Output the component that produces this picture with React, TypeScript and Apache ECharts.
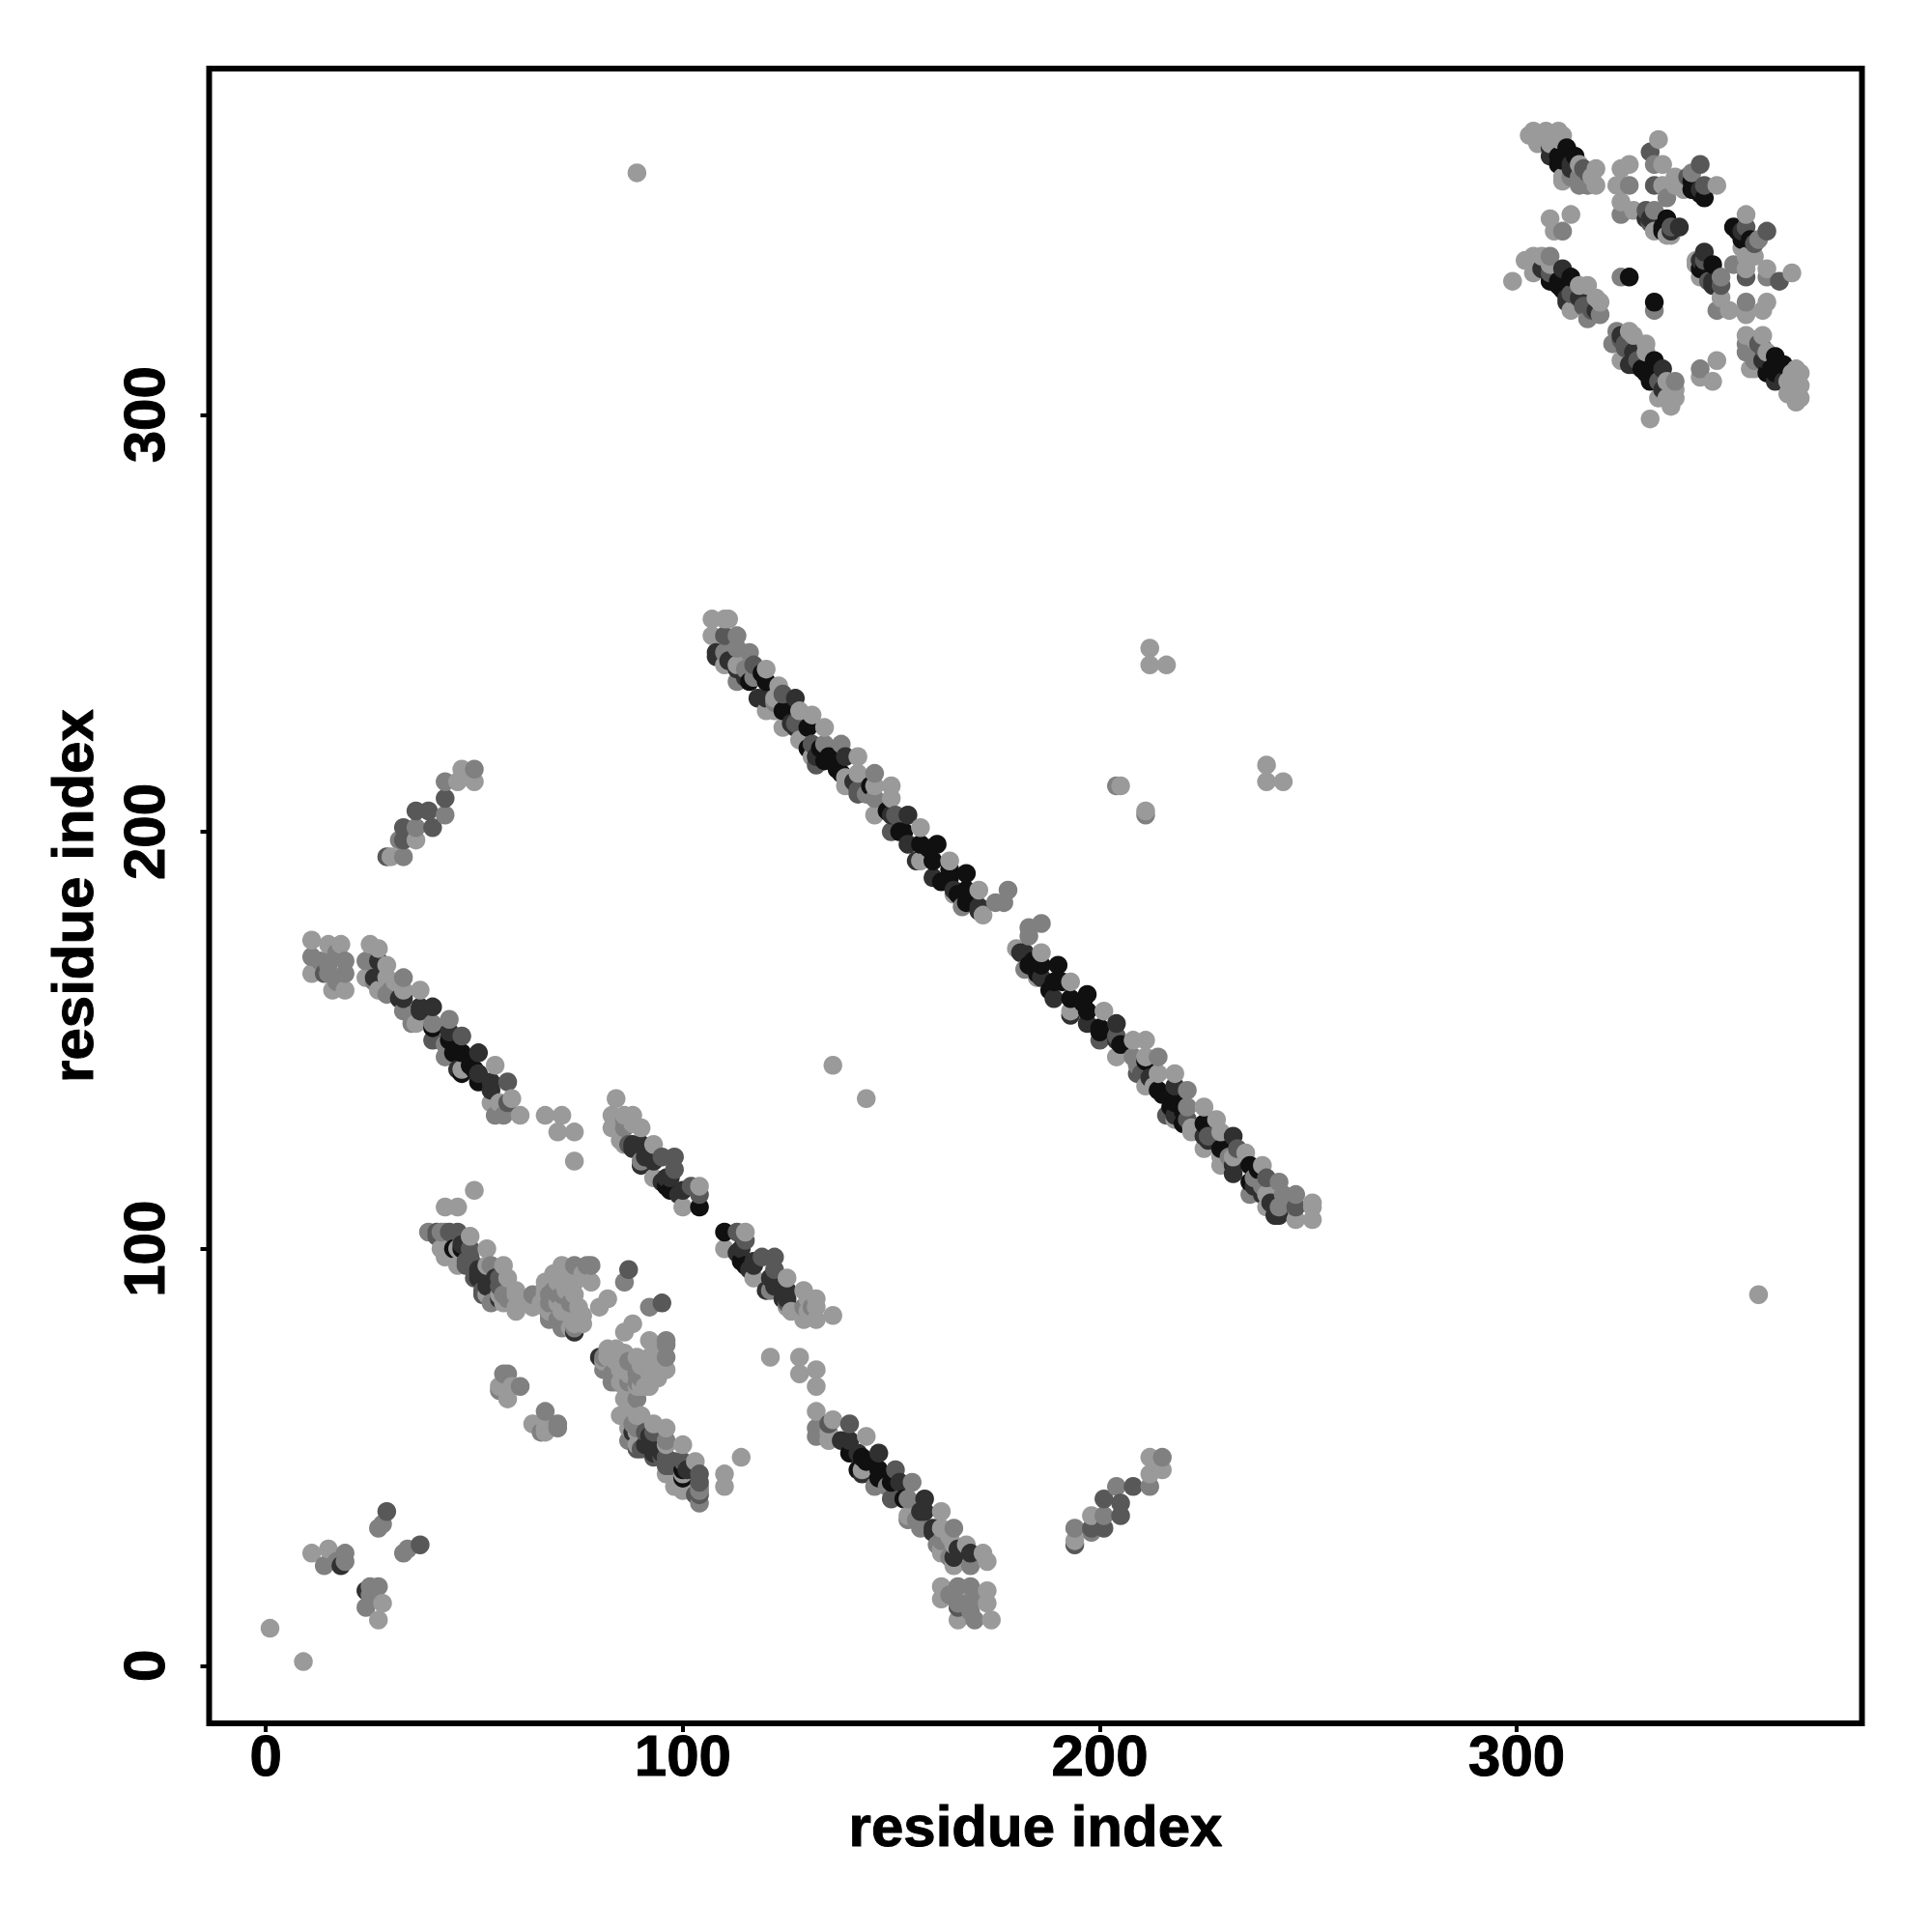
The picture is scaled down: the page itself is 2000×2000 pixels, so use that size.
import React, { useEffect, useRef } from "react";
import * as echarts from "echarts";

// Contact map: symmetric, so each contact is listed once as [i, j, shade]
const shades = ["#9a9a9a", "#808080", "#585858", "#303030", "#101010"];
const tickValues = [0, 100, 200, 300];
const axisTitle = "residue index";

const isolated = [
  [1, 9, 0], [89, 358, 0], [136, 144, 0], [212, 244, 0], [212, 240, 0], [216, 240, 0],
  [204, 211, 1], [205, 211, 0], [50, 114, 0], [43, 110, 0], [46, 110, 0],
  [74, 128, 0], [70, 128, 0], [71, 132, 0], [67, 132, 0], [74, 121, 0],
  [80, 86, 0], [82, 88, 0], [86, 92, 1], [87, 95, 2],
];

const cornerCluster = [
  [29, 37, 2], [27, 33, 1], [28, 34, 1], [11, 27, 0], [15, 28, 0], [14, 24, 1],
  [19, 27, 1], [19, 25, 1], [18, 24, 3], [17, 25, 1],
];

const parallelStrand = [
  [47, 215, 0], [50, 215, 1], [46, 212, 0], [50, 212, 0], [43, 212, 1], [43, 208, 2],
  [43, 204, 1], [36, 205, 2], [39, 205, 2], [40, 201, 2], [36, 201, 1], [33, 201, 2],
  [32, 198, 1], [33, 198, 2], [36, 198, 0], [33, 194, 1], [30, 194, 0], [29, 194, 2],
];

const mainBand = [
  [107, 251, 0], [110, 251, 0], [111, 251, 0], [107, 247, 0], [110, 247, 2], [113, 247, 1],
  [108, 243, 3], [110, 243, 1], [113, 244, 1], [116, 243, 1], [110, 240, 0], [113, 240, 0],
  [113, 239, 3], [117, 240, 2], [120, 239, 0], [113, 236, 1], [116, 236, 4], [120, 236, 4],
  [120, 232, 3], [120, 229, 0], [123, 235, 0], [124, 233, 2], [127, 232, 3], [124, 229, 4],
  [124, 225, 0], [127, 225, 3], [128, 229, 0], [131, 228, 0], [130, 225, 4], [134, 225, 0],
  [131, 221, 2], [131, 218, 0], [134, 221, 1], [135, 218, 4], [138, 221, 1], [139, 218, 3],
  [138, 214, 4], [139, 211, 0], [142, 218, 0], [142, 214, 0], [146, 214, 1], [142, 210, 2],
  [146, 211, 0], [150, 211, 0], [150, 208, 0], [146, 208, 1], [146, 204, 0], [150, 204, 3],
  [154, 204, 3], [150, 200, 2], [153, 200, 4], [154, 197, 3], [157, 201, 0], [161, 197, 4],
  [157, 197, 4], [157, 193, 0], [160, 193, 4], [160, 189, 3], [164, 193, 0], [164, 189, 4],
  [168, 190, 4], [165, 186, 3], [168, 186, 4], [171, 186, 0], [167, 182, 1], [168, 183, 4],
  [171, 182, 3], [175, 183, 1], [177, 183, 1], [178, 186, 1], [172, 180, 0],
];

const mainBandUnder = [
  [115, 237, 3], [118, 232, 3], [122, 231, 1], [122, 229, 0], [126, 226, 3], [129, 222, 0],
  [130, 220, 4], [133, 220, 4], [132, 216, 2], [134, 217, 4], [137, 215, 4], [141, 212, 3],
  [142, 209, 2], [145, 211, 4], [149, 205, 4], [151, 204, 2], [152, 200, 4], [156, 193, 3],
  [159, 196, 4], [162, 188, 4], [164, 191, 4], [165, 185, 0], [169, 184, 4], [166, 185, 4],
  [171, 181, 3], [111, 241, 3], [108, 242, 3], [115, 239, 1], [117, 237, 1], [119, 238, 4],
  [122, 232, 0], [127, 226, 2], [128, 222, 0], [132, 218, 3], [139, 213, 0], [144, 209, 1],
];

const nTerminalBand = [
  [11, 174, 0], [11, 170, 1], [11, 166, 0], [14, 166, 2], [15, 173, 0], [18, 173, 0],
  [15, 169, 1], [19, 169, 1], [15, 166, 1], [19, 166, 1], [16, 162, 0], [19, 162, 0],
  [25, 173, 0], [27, 172, 0], [24, 169, 1], [27, 169, 3], [24, 165, 0], [26, 165, 3],
  [29, 168, 0], [29, 165, 0], [27, 162, 0], [29, 161, 1], [33, 165, 1], [33, 162, 0],
  [33, 160, 3], [33, 157, 1], [37, 162, 0], [37, 158, 3], [36, 154, 0], [40, 158, 3],
  [40, 154, 1], [40, 150, 2], [44, 155, 1], [44, 150, 4], [43, 146, 1], [47, 151, 2],
  [47, 147, 4], [47, 142, 4], [47, 143, 0], [51, 147, 3], [50, 143, 4], [55, 144, 0],
  [51, 140, 4], [54, 140, 3], [58, 140, 2], [54, 135, 0], [59, 136, 0], [58, 135, 2],
  [57, 132, 1], [61, 132, 0],
  [15, 168, 1], [17, 171, 1], [13, 169, 1], [17, 164, 1], [28, 166, 3], [26, 164, 1],
  [28, 162, 0], [30, 162, 1], [31, 164, 0], [32, 160, 3], [35, 156, 1], [37, 157, 3],
  [35, 154, 1], [40, 153, 4], [44, 152, 3], [43, 149, 1], [45, 147, 4], [46, 143, 3],
  [49, 144, 4], [51, 142, 3], [54, 138, 3], [56, 135, 0], [55, 132, 1],
];

const hairpinBand = [
  [84, 136, 0], [83, 132, 0], [86, 132, 0], [88, 132, 0], [84, 129, 0], [86, 129, 1],
  [90, 129, 0], [86, 125, 0], [87, 125, 2], [90, 125, 3], [93, 125, 0], [90, 121, 1],
  [90, 120, 3], [93, 121, 3], [95, 122, 2], [98, 122, 2], [93, 117, 0], [98, 119, 2],
  [97, 117, 3], [97, 114, 4], [100, 114, 3], [102, 115, 2], [104, 115, 0], [100, 110, 0],
  [104, 110, 4], [104, 113, 2],
  [83, 129, 0], [85, 126, 0], [86, 131, 1], [85, 130, 0], [88, 130, 0], [88, 124, 3],
  [88, 125, 3], [91, 122, 3], [96, 117, 3], [96, 115, 4], [99, 113, 3], [95, 116, 3],
];

const lowerBand = [
  [39, 104, 1], [41, 103, 2], [42, 104, 1], [43, 104, 1], [46, 104, 2], [49, 103, 0],
  [42, 100, 0], [45, 100, 4], [46, 100, 0], [46, 96, 0], [49, 100, 2], [49, 96, 2],
  [50, 96, 2], [50, 93, 2], [53, 100, 0], [53, 96, 0], [54, 96, 1], [57, 96, 0],
  [53, 92, 3], [55, 93, 3], [56, 93, 2], [58, 93, 0], [52, 89, 2], [53, 89, 0],
  [56, 88, 3], [56, 89, 0], [57, 89, 1], [60, 90, 0], [60, 89, 0], [60, 86, 0], [60, 85, 0],
  [64, 89, 1], [64, 86, 0],
  [61, 87, 0], [66, 87, 0], [57, 87, 0], [54, 87, 1], [58, 88, 1], [52, 90, 2], [51, 94, 3],
  [48, 96, 2], [48, 97, 2], [44, 100, 0], [44, 104, 2], [41, 104, 2], [47, 101, 3], [51, 95, 3],
  [55, 92, 3], [56, 91, 2], [53, 91, 3], [51, 93, 3], [50, 95, 2], [49, 98, 2], [47, 100, 4],
  [43, 98, 0],
];

const denseCluster = [
  [71, 96, 0], [74, 96, 1], [77, 96, 1], [78, 96, 1], [70, 92, 0], [71, 92, 0], [74, 93, 0],
  [74, 92, 0], [78, 92, 0], [67, 92, 0], [67, 90, 0], [68, 89, 1], [70, 89, 1], [71, 89, 1],
  [74, 89, 0], [68, 85, 0], [68, 83, 1], [71, 85, 0], [75, 86, 0], [71, 81, 1], [74, 81, 1],
  [76, 82, 0], [74, 80, 3],
  [67, 91, 0], [69, 94, 0], [72, 94, 0], [76, 94, 0], [69, 90, 1], [72, 90, 0], [68, 87, 1],
  [70, 87, 0], [73, 87, 1], [68, 84, 1], [70, 83, 1], [73, 84, 0], [73, 81, 0], [76, 84, 0],
  [74, 82, 0], [71, 84, 1], [67, 86, 0], [71, 86, 0], [67, 89, 0],
];

const smallKnot = [
  [57, 70, 1], [58, 70, 1], [56, 66, 1], [56, 67, 0], [57, 67, 0], [58, 64, 0], [59, 67, 0], [61, 67, 1],
];

const cTerminalCluster = [
  [304, 368, 0], [307, 368, 0], [310, 368, 0], [305, 365, 0], [308, 365, 0], [311, 367, 0],
  [308, 362, 3], [312, 364, 4], [310, 360, 4], [314, 362, 4], [313, 359, 3], [315, 360, 0],
  [316, 359, 2], [319, 359, 0], [311, 356, 0], [315, 355, 1], [317, 355, 1], [319, 355, 0],
  [308, 347, 0], [313, 348, 0], [309, 344, 0], [311, 344, 1],
  [304, 338, 0], [308, 338, 1], [304, 334, 0], [299, 332, 0], [311, 335, 3], [308, 334, 2],
  [313, 333, 4], [310, 332, 4], [315, 331, 0], [317, 331, 0], [312, 328, 3], [313, 325, 0],
  [318, 325, 2], [318, 324, 1], [319, 328, 0], [317, 326, 2], [319, 325, 3],
  [325, 333, 1], [327, 333, 4],
  [327, 360, 0], [325, 359, 0], [325, 355, 0], [327, 355, 1], [324, 355, 0], [325, 351, 0],
  [325, 348, 1], [328, 349, 0], [331, 349, 2], [333, 349, 1], [332, 346, 2], [333, 344, 0],
  [336, 347, 4], [335, 344, 4], [337, 343, 0], [339, 345, 3], [337, 345, 2],
  [334, 366, 0], [332, 363, 2], [333, 360, 1], [335, 360, 0], [333, 355, 2], [335, 355, 0],
  [338, 357, 0], [340, 354, 0], [336, 352, 1], [341, 357, 2], [344, 360, 2], [342, 356, 4],
  [345, 355, 2], [348, 355, 0], [345, 352, 4], [342, 358, 1], [344, 354, 3],
  [305, 366, 0], [307, 366, 0], [310, 366, 0], [308, 364, 3], [310, 362, 4], [311, 361, 4],
  [313, 360, 3], [317, 358, 2], [311, 357, 0], [313, 357, 1], [315, 357, 1], [318, 357, 0],
  [303, 367, 0],
  [302, 337, 0], [306, 338, 0], [308, 336, 0], [304, 336, 0], [306, 335, 3], [308, 332, 4],
  [310, 331, 4], [311, 330, 4], [312, 327, 3], [313, 329, 2], [315, 328, 3], [316, 326, 2],
  [317, 323, 1], [320, 324, 1], [320, 327, 0],
  [331, 347, 3], [332, 347, 3], [335, 345, 4], [336, 343, 0],
  [337, 344, 3], [342, 354, 4], [344, 353, 4], [338, 355, 0],
];

const contacts = [
  ...isolated, ...cornerCluster, ...parallelStrand, ...mainBand, ...mainBandUnder, ...nTerminalBand,
  ...hairpinBand, ...lowerBand, ...denseCluster, ...smallKnot, ...cTerminalCluster,
];

function buildPoints() {
  const both = contacts.flatMap(([i, j, s]) => [[i, j, s], [j, i, s]]);
  both.sort((a, b) => a[0] - b[0] || a[1] - b[1]);
  return both.map(([x, y, s]) => ({ value: [x, y], itemStyle: { color: shades[s] } }));
}

const axisFont = {
  fontFamily: "Liberation Sans", fontWeight: "bold" as const, fontSize: 60, color: "#000",
  textBorderColor: "#000", textBorderWidth: 1,
};

export default function App() {
  const ref = useRef<HTMLDivElement>(null);
  useEffect(() => {
    const chart = echarts.init(ref.current!, null, { renderer: "svg" });
    chart.setOption({
      animation: false,
      backgroundColor: "#fff",
      grid: {
        left: 216.5, top: 71, width: 1711, height: 1713, show: true,
        borderColor: "#000", borderWidth: 6, backgroundColor: "transparent",
      },
      xAxis: {
        type: "value", min: -13.6, max: 382.8, name: axisTitle, nameLocation: "middle", nameGap: 76,
        nameTextStyle: axisFont,
        axisLine: { show: false, onZero: false }, splitLine: { show: false },
        axisTick: { show: true, length: 9, lineStyle: { color: "#000", width: 4 }, customValues: tickValues },
        axisLabel: { ...axisFont, margin: 3, customValues: tickValues, formatter: (v: number) => String(v) },
      },
      yAxis: {
        type: "value", min: -13.8, max: 383, name: axisTitle, nameLocation: "middle", nameGap: 111, nameRotate: 90,
        nameTextStyle: axisFont,
        axisLine: { show: false, onZero: false }, splitLine: { show: false },
        axisTick: { show: true, length: 9, lineStyle: { color: "#000", width: 4 }, customValues: tickValues },
        axisLabel: { ...axisFont, margin: 37, rotate: 90, customValues: tickValues, formatter: (v: number) => String(v) },
      },
      series: [{ type: "scatter", symbol: "circle", symbolSize: 19.5, data: buildPoints(), itemStyle: { opacity: 1 } }],
    });
    return () => chart.dispose();
  }, []);
  return <div ref={ref} style={{ position: "absolute", left: 0, top: 0, width: 2000, height: 2000 }} />;
}
